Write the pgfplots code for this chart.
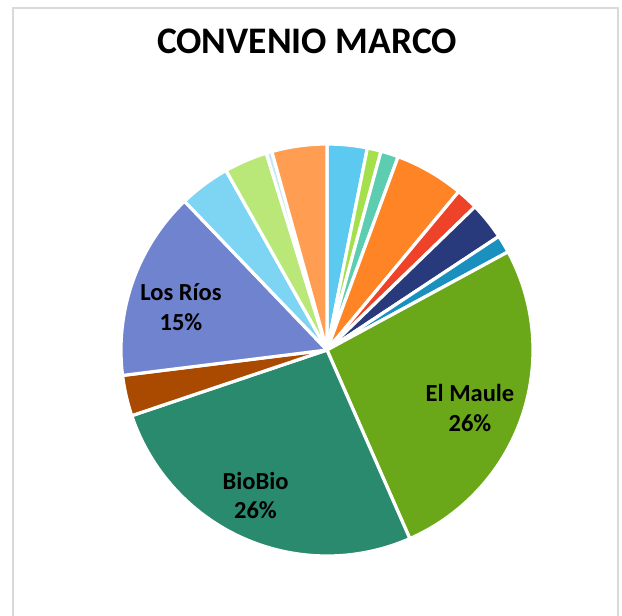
\documentclass[border=0pt]{standalone}
\usepackage{pgfplots}
\pgfplotsset{compat=1.18}
\usepackage{pgfplotstable}
\usepackage{fontspec}
\setmainfont{Carlito}

\definecolor{s1}{HTML}{5CC9F0}
\definecolor{s2}{HTML}{A3E04C}
\definecolor{s3}{HTML}{5CCDB1}
\definecolor{s4}{HTML}{FF8426}
\definecolor{s5}{HTML}{EE4229}
\definecolor{s6}{HTML}{283A7B}
\definecolor{s7}{HTML}{1A90BF}
\definecolor{s8}{HTML}{6AA81A}
\definecolor{s9}{HTML}{2A8A6E}
\definecolor{s10}{HTML}{AA4A00}
\definecolor{s11}{HTML}{7083CF}
\definecolor{s12}{HTML}{7ED5F3}
\definecolor{s13}{HTML}{B9E879}
\definecolor{s14}{HTML}{C5E8F4}
\definecolor{s15}{HTML}{FF9E52}
\definecolor{frame}{HTML}{D9D9D9}

% share of each slice, clockwise from 12 o'clock
\pgfplotstableread{
value col
3.14  s1
1.08  s2
1.39  s3
5.42  s4
1.72  s5
2.94  s6
1.39  s7
26.30 s8
26.40 s9
3.19  s10
14.80 s11
4.00  s12
3.39  s13
0.45  s14
4.31  s15
}\piedata

% turn the shares into slice commands (angles in degrees)
\pgfplotstablegetrowsof{\piedata}
\pgfmathtruncatemacro\lastrow{\pgfplotsretval-1}
\def\total{0}
\pgfplotsforeachungrouped \i in {0,...,\lastrow} {
    \pgfplotstablegetelem{\i}{value}\of\piedata
    \pgfmathsetmacro\total{\total+\pgfplotsretval}
}
\def\cum{0}
\gdef\slicecmds{}
\pgfplotsforeachungrouped \i in {0,...,\lastrow} {
    \pgfplotstablegetelem{\i}{value}\of\piedata \let\val\pgfplotsretval
    \pgfplotstablegetelem{\i}{col}\of\piedata \let\slicecol\pgfplotsretval
    \pgfmathsetmacro\angA{90-360*(\cum/\total)}
    \pgfmathsetmacro\angB{90-360*((\cum+\val)/\total)}
    \xdef\slicecmds{\unexpanded\expandafter{\slicecmds}%
        \noexpand\filldraw[fill=\slicecol, draw=white, line width=3.2bp, line join=round]
        (axis cs:327,266) -- +(\angA:206bp) arc[start angle=\angA, end angle=\angB, radius=206bp] -- cycle;}
    \pgfmathsetmacro\cum{\cum+\val}
}

\begin{document}
\begin{tikzpicture}
\useasboundingbox (0,0) rectangle (622bp,616bp);
\begin{axis}[
    at={(0,0)}, anchor=south west,
    x=1bp, y=1bp,
    xmin=0, xmax=622, ymin=0, ymax=616,
    hide axis, clip=false,
]
\slicecmds
% chart frame
\draw[frame, line width=2bp] (axis cs:13,-5) -- (axis cs:13,608) -- (axis cs:618,608) -- (axis cs:618,-5);
% title and labels
\node[anchor=base, font=\fontsize{37.5bp}{40bp}\selectfont\bfseries] at (axis cs:307,562.5) {CONVENIO MARCO};
\node[anchor=base, font=\fontsize{24.5bp}{28bp}\selectfont\bfseries] at (axis cs:181,315.3) {Los Ríos};
\node[anchor=base, font=\fontsize{24.5bp}{28bp}\selectfont\bfseries] at (axis cs:181,286) {15\%};
\node[anchor=base, font=\fontsize{24.5bp}{28bp}\selectfont\bfseries] at (axis cs:470,214.3) {El Maule};
\node[anchor=base, font=\fontsize{24.5bp}{28bp}\selectfont\bfseries] at (axis cs:470,185) {26\%};
\node[anchor=base, font=\fontsize{24.5bp}{28bp}\selectfont\bfseries] at (axis cs:255.5,126.7) {BioBio};
\node[anchor=base, font=\fontsize{24.5bp}{28bp}\selectfont\bfseries] at (axis cs:255.5,97.7) {26\%};
\end{axis}
\end{tikzpicture}
\end{document}
